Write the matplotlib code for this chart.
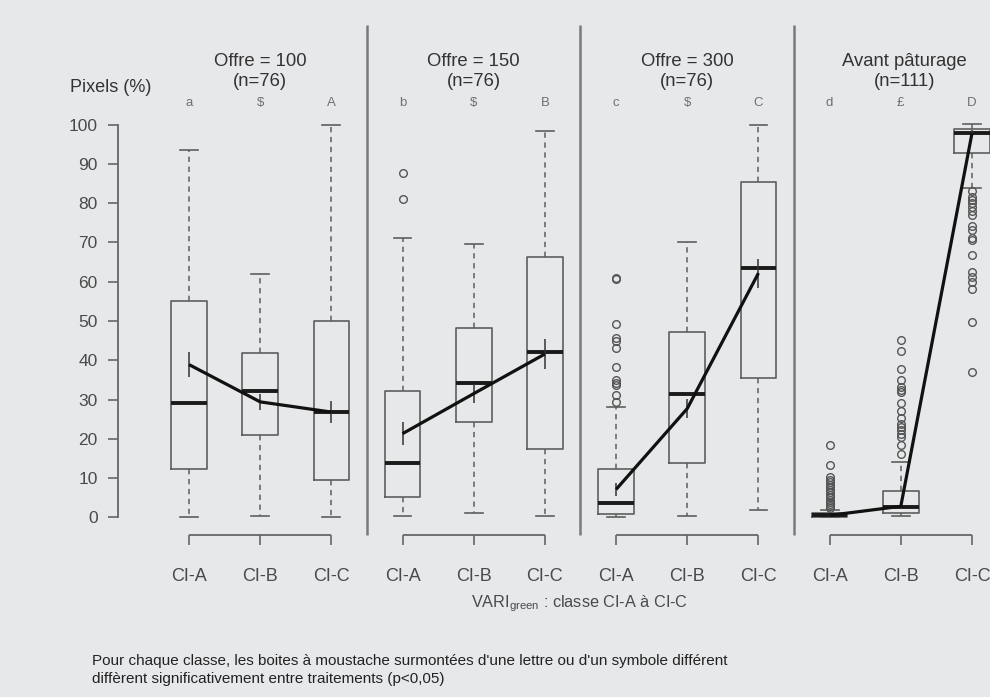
import matplotlib
matplotlib.use('Agg')
import matplotlib.pyplot as plt
import numpy as np

plt.rcParams['font.family'] = ['Liberation Sans', 'DejaVu Sans']

# ---------------- data ----------------
panel_titles = ['Offre = 100', 'Offre = 150', 'Offre = 300', 'Avant pâturage']
panel_n = ['(n=76)', '(n=76)', '(n=76)', '(n=111)']
classes = ['CI-A', 'CI-B', 'CI-C']
letters = ['a', '$', 'A', 'b', '$', 'B', 'c', '$', 'C', 'd', '£', 'D']

q1 = [12.4, 20.9, 9.4, 5.2, 24.3, 17.3, 0.9, 13.9, 35.6, 0.1, 1.2, 92.9]
med = [29.0, 32.1, 26.9, 13.9, 34.1, 42.2, 3.7, 31.5, 63.4, 0.5, 2.5, 97.9]
q3 = [55.1, 41.9, 50.0, 32.1, 48.1, 66.2, 12.2, 47.1, 85.4, 1.0, 6.7, 98.9]
whis_lo = [0.0, 0.3, 0.0, 0.3, 1.2, 0.3, 0.1, 0.3, 1.8, 0.0, 0.25, 84.0]
whis_hi = [93.6, 61.9, 100.0, 71.1, 69.6, 98.5, 28.0, 70.2, 100.0, 1.8, 14.1, 100.3]

fliers = [
    [], [], [],
    [87.8, 81.1], [], [],
    [60.9, 60.6, 49.2, 45.6, 45.0, 43.0, 38.3, 34.9, 34.3, 33.8, 31.1, 29.4], [], [],
    [18.4, 13.3, 10.2, 9.5, 8.9, 8.3, 7.6, 7.0, 6.4, 5.7, 5.1, 4.5, 3.9, 3.3, 2.8, 2.3],
    [45.2, 42.4, 37.7, 34.9, 33.1, 32.4, 31.9, 29.2, 27.1, 25.2, 23.7, 23.0, 22.2,
     21.3, 20.5, 18.4, 16.1],
    [83.2, 81.7, 80.9, 80.0, 79.0, 78.1, 77.0, 74.1, 73.1, 71.1, 70.7, 66.7, 62.6,
     61.3, 60.0, 58.1, 49.8, 37.1],
]

means = [38.9, 29.4, 26.8, 21.3, 31.5, 41.6, 7.1, 27.7, 62.2, 0.5, 2.8, 97.8]
ci_half = [3.2, 2.1, 2.8, 2.9, 2.5, 3.9, 1.6, 2.4, 3.7, 0.3, 0.8, 0.8]

yticks = [0, 10, 20, 30, 40, 50, 60, 70, 80, 90, 100]
xlabel_txt = r'VARI$_{\mathregular{green}}$ : classe CI-A à CI-C'
ylabel_txt = 'Pixels (%)'
footer1 = ("Pour chaque classe, les boites à moustache surmontées d'une lettre "
           "ou d'un symbole différent")
footer2 = "diffèrent significativement entre traitements (p<0,05)"

# ---------------- style ----------------
BG = '#e7e8ea'
GRAY = '#5e5e5e'
TXT = '#333333'
TICKTXT = '#4a4a4a'

W, H = 990, 697
fig = plt.figure(figsize=(W / 100, H / 100), dpi=100)
fig.patch.set_facecolor(BG)

px_unit = 71.18
left_px = 189 - px_unit
xmax = 12.4
ax_w_px = xmax * px_unit
top_px, bot_px = 25, 535
y0_px, y100_px = 517.3, 124.7
ppu = (y0_px - y100_px) / 100.0
ylo = (y0_px - bot_px) / ppu
yhi = (y0_px - top_px) / ppu

ax = fig.add_axes([left_px / W, (H - bot_px) / H, ax_w_px / W, (bot_px - top_px) / H])
ax.set_facecolor(BG)
ax.set_xlim(0, xmax)
ax.set_ylim(ylo, yhi)

positions = list(range(1, 13))
stats = []
for i in range(12):
    stats.append(dict(q1=q1[i], med=med[i], q3=q3[i], whislo=whis_lo[i],
                      whishi=whis_hi[i], fliers=fliers[i], label=''))

ax.bxp(stats, positions=positions, widths=0.5, manage_ticks=False,
       boxprops=dict(color=GRAY, linewidth=1.2),
       medianprops=dict(color='#1a1a1a', linewidth=2.8, solid_capstyle='butt'),
       whiskerprops=dict(color=GRAY, linewidth=1.1, linestyle=(0, (3.5, 3))),
       capprops=dict(color=GRAY, linewidth=1.2),
       flierprops=dict(marker='o', markerfacecolor='none', markeredgecolor='#555555',
                       markersize=5.5, markeredgewidth=1.0, linestyle='none'))

means_a = np.array(means)
ci_a = np.array(ci_half)
ax.vlines(positions, means_a - ci_a, means_a + ci_a, color='#333333', lw=1.1, zorder=4)
for p in range(4):
    sl = slice(3 * p, 3 * p + 3)
    ax.plot(positions[sl], means[sl], color='#111111', lw=2.3, zorder=5,
            solid_capstyle='butt')

# separators
ax.vlines([3.5, 6.5, 9.5], ylo, yhi, color='#7a7a7a', lw=1.8, clip_on=False, zorder=1)

# spines / axes
for s in ['top', 'right', 'bottom']:
    ax.spines[s].set_visible(False)
ax.spines['left'].set_bounds(0, 100)
ax.spines['left'].set_color('#666666')
ax.spines['left'].set_linewidth(1.3)
ax.set_yticks(yticks)
ax.set_yticklabels([str(v) for v in yticks])
ax.tick_params(axis='y', direction='out', length=7.5, width=1.2, color='#666666',
               labelsize=12.5, labelcolor=TICKTXT, pad=7)
ax.set_xticks(positions)
ax.set_xticklabels(classes * 4)
ax.tick_params(axis='x', direction='out', length=7.5, width=1.2, color='#666666',
               labelsize=13, labelcolor=TICKTXT, pad=16.5)
for p in range(4):
    ax.plot([3 * p + 1, 3 * p + 3], [ylo, ylo], color='#666666', lw=1.3,
            clip_on=False, solid_capstyle='butt')

# titles & letters
for p in range(4):
    c = 3 * p + 2
    xc = c if p < 3 else c + 0.05
    ax.text(xc, (y0_px - 61) / ppu, panel_titles[p], ha='center', va='center',
            fontsize=13.3, color=TXT)
    ax.text(xc, (y0_px - 81.5) / ppu, panel_n[p], ha='center', va='center',
            fontsize=13.3, color=TXT)
for i, l in enumerate(letters):
    ax.text(positions[i], (y0_px - 103) / ppu, l, ha='center', va='center',
            fontsize=9.5, color='#707070')

fig.text(111 / W, 1 - 88 / H, ylabel_txt, ha='center', va='center', fontsize=13,
         color=TXT)
fig.text(580 / W, 1 - 604 / H, xlabel_txt, ha='center', va='center', fontsize=11.7,
         color=TICKTXT)
fig.text(92 / W, 1 - 661 / H, footer1, ha='left', va='center', fontsize=11, color='#222222')
fig.text(92 / W, 1 - 679 / H, footer2, ha='left', va='center', fontsize=11, color='#222222')

fig.savefig('out.png', dpi=100, facecolor=BG)
